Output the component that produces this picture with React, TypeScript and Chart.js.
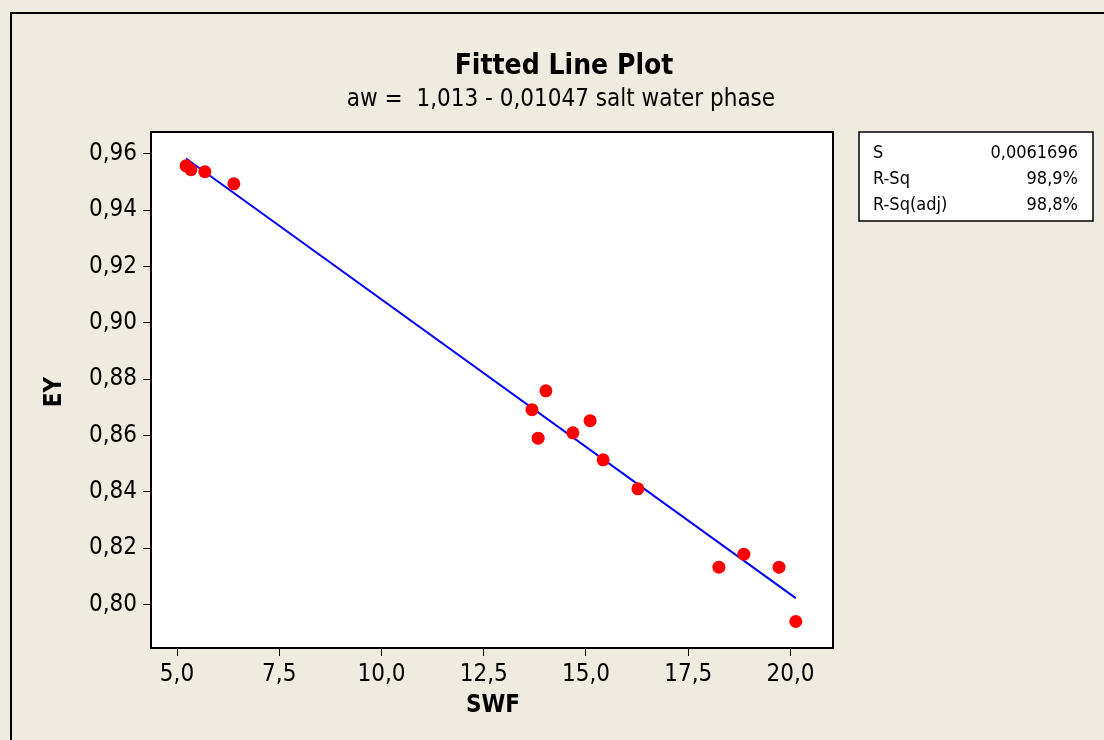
import React, { useEffect, useRef } from "react";
import { Chart, registerables } from "chart.js";

Chart.register(...registerables);

const swf = [5.22, 5.34, 5.68, 6.39, 13.68, 14.02, 13.83, 14.68, 15.1, 15.42, 16.27, 18.25, 18.86, 19.72, 20.13];
const ey = [0.9557, 0.9543, 0.9536, 0.9493, 0.8691, 0.8758, 0.859, 0.8609, 0.8652, 0.8513, 0.841, 0.8132, 0.8178, 0.8132, 0.7939];
const fitX = [5.22, 20.13];
const fitY = [0.9583, 0.8022];
const xTicks = [5, 7.5, 10, 12.5, 15, 17.5, 20];
const yTicks = [0.8, 0.82, 0.84, 0.86, 0.88, 0.9, 0.92, 0.94, 0.96];
const statLabels = ["S", "R-Sq", "R-Sq(adj)"];
const statValues = ["0,0061696", "98,9%", "98,8%"];
const title = "Fitted Line Plot";
const subtitle = "aw =  1,013 - 0,01047 salt water phase";
const xTitle = "SWF";
const yTitle = "EY";

const FONT = "'DejaVu Sans Condensed', 'DejaVu Sans', Verdana, sans-serif";
const BG = "#EFEBE1";

const decor = {
  id: "decor",
  beforeDraw(chart: any) {
    const { ctx, chartArea: a, width, height } = chart;
    ctx.save();
    ctx.fillStyle = BG;
    ctx.fillRect(0, 0, width, height);
    ctx.strokeStyle = "#000";
    ctx.lineWidth = 2;
    ctx.beginPath();
    ctx.moveTo(11, height);
    ctx.lineTo(11, 13);
    ctx.lineTo(width, 13);
    ctx.stroke();
    ctx.fillStyle = "#fff";
    ctx.fillRect(a.left, a.top, a.right - a.left, a.bottom - a.top);
    ctx.restore();
  },
  afterDraw(chart: any) {
    const { ctx, chartArea: a } = chart;
    ctx.save();
    ctx.strokeStyle = "#000";
    ctx.lineWidth = 2;
    ctx.strokeRect(a.left, a.top, a.right - a.left, a.bottom - a.top);

    ctx.fillStyle = "#000";
    ctx.textAlign = "center";
    ctx.textBaseline = "middle";
    ctx.font = `bold 28px ${FONT}`;
    ctx.fillText(title, 564, 67);
    ctx.font = `24px ${FONT}`;
    ctx.fillText(subtitle, 561, 100);

    ctx.font = `bold 24px ${FONT}`;
    ctx.fillText(xTitle, 493, 706);
    ctx.save();
    ctx.translate(55, 392);
    ctx.rotate(-Math.PI / 2);
    ctx.fillText(yTitle, 0, 0);
    ctx.restore();

    // stats box
    ctx.fillStyle = "#fff";
    ctx.fillRect(859, 132, 234, 89);
    ctx.lineWidth = 1.5;
    ctx.strokeRect(859, 132, 234, 89);
    ctx.fillStyle = "#000";
    ctx.font = `18px ${FONT}`;
    const rowY = [153, 179, 205];
    statLabels.forEach((l, i) => {
      ctx.textAlign = "left";
      ctx.fillText(l, 873, rowY[i]);
      ctx.textAlign = "right";
      ctx.fillText(statValues[i], 1078, rowY[i]);
    });
    ctx.restore();
  },
};

const fmt = (v: number, d: number) => v.toFixed(d).replace(".", ",");

export default function App() {
  const ref = useRef<HTMLCanvasElement>(null);
  useEffect(() => {
    document.body.style.margin = "0";
    const chart = new Chart(ref.current!, {
      type: "scatter",
      data: {
        datasets: [
          {
            type: "line",
            data: fitX.map((x, i) => ({ x, y: fitY[i] })),
            borderColor: "#0000FF",
            borderWidth: 2,
            pointRadius: 0,
            fill: false,
            order: 2,
          } as any,
          {
            data: swf.map((x, i) => ({ x, y: ey[i] })),
            backgroundColor: "#FF0000",
            borderWidth: 0,
            pointRadius: 6.5,
            order: 1,
          },
        ],
      },
      options: {
        responsive: false,
        animation: false,
        layout: { padding: { top: 132, right: 271, left: 0, bottom: 0 } },
        plugins: { legend: { display: false }, tooltip: { enabled: false }, title: { display: false } },
        scales: {
          x: {
            type: "linear",
            min: 4.364,
            max: 21.04,
            afterFit: (s: any) => { s.height = 92; },
            afterBuildTicks: (s: any) => { s.ticks = xTicks.map((v) => ({ value: v })); },
            ticks: {
              callback: (v: any) => fmt(Number(v), 1),
              color: "#000",
              font: { family: FONT, size: 24 },
              padding: 4,
              maxRotation: 0,
            },
            grid: { drawOnChartArea: false, drawTicks: true, tickLength: 8, color: "#000", lineWidth: 1 },
            border: { display: false },
          },
          y: {
            type: "linear",
            min: 0.7845,
            max: 0.9677,
            afterFit: (s: any) => { s.width = 151; },
            afterBuildTicks: (s: any) => { s.ticks = yTicks.map((v) => ({ value: v })); },
            ticks: {
              callback: (v: any) => fmt(Number(v), 2),
              color: "#000",
              font: { family: FONT, size: 24 },
              padding: 6,
            },
            grid: { drawOnChartArea: false, drawTicks: true, tickLength: 8, color: "#000", lineWidth: 1 },
            border: { display: false },
          },
        },
      },
      plugins: [decor],
    });
    return () => chart.destroy();
  }, []);
  return (
    <div style={{ position: "fixed", left: 0, top: 0, width: 1104, height: 740 }}>
      <canvas ref={ref} width={1104} height={740} />
    </div>
  );
}
